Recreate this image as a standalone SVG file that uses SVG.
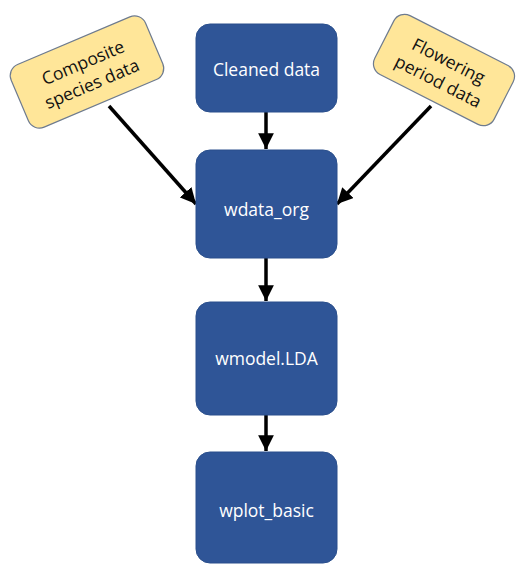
<svg xmlns="http://www.w3.org/2000/svg" width="520" height="567" viewBox="0 0 520 567">
  <style>
    .proc rect { fill: #2F5597; stroke: #2A4F8C; stroke-width: 1; }
    .proc text { fill: #FFFFFF; font-family: "Open Sans", "Liberation Sans", sans-serif; font-size: 17.5px; text-anchor: middle; dominant-baseline: central; }
    .input rect { fill: #FFE699; stroke: #6E7B8F; stroke-width: 1.2; }
    .input text { fill: #111111; font-family: "Open Sans", "Liberation Sans", sans-serif; font-size: 17.5px; text-anchor: middle; }
    .edge { stroke: #000000; stroke-width: 3.5; fill: none; marker-end: url(#head); }
  </style>
  <defs>
    <marker id="head" viewBox="0 0 10 10" refX="10" refY="5" markerWidth="4.5" markerHeight="4.5" markerUnits="strokeWidth" orient="auto">
      <path d="M0,0 L10,5 L0,10 Z" fill="#000000"/>
    </marker>
  </defs>

  <rect width="520" height="567" fill="#FFFFFF"/>

  <!-- connectors -->
  <g id="connectors">
    <line class="edge" x1="266" y1="112" x2="266" y2="149"/>
    <line class="edge" x1="266" y1="258" x2="266" y2="301"/>
    <line class="edge" x1="266" y1="415" x2="266" y2="451"/>
    <line class="edge" x1="109" y1="106" x2="196" y2="204"/>
    <line class="edge" x1="431" y1="106" x2="337" y2="204"/>
  </g>

  <!-- source data -->
  <g id="composite" class="input" transform="translate(87 72) rotate(-23)">
    <rect x="-73" y="-34" width="146" height="68" rx="12"/>
    <text x="0" y="-4">Composite</text>
    <text x="0" y="19">species data</text>
  </g>
  <g id="flowering" class="input" transform="translate(444 70) rotate(27)">
    <rect x="-67" y="-33" width="134" height="66" rx="12"/>
    <text x="0" y="-4">Flowering</text>
    <text x="0" y="19">period data</text>
  </g>

  <!-- pipeline steps -->
  <g id="cleaned" class="proc">
    <rect x="196" y="24" width="141" height="88" rx="14"/>
    <text x="266.5" y="69">Cleaned data</text>
  </g>
  <g id="wdata_org" class="proc">
    <rect x="196" y="150" width="141" height="108" rx="14"/>
    <text x="266.5" y="209">wdata_org</text>
  </g>
  <g id="wmodel" class="proc">
    <rect x="196" y="302" width="141" height="113" rx="14"/>
    <text x="266.5" y="358">wmodel.LDA</text>
  </g>
  <g id="wplot" class="proc">
    <rect x="196" y="452" width="141" height="111" rx="14"/>
    <text x="266.5" y="510">wplot_basic</text>
  </g>
</svg>
